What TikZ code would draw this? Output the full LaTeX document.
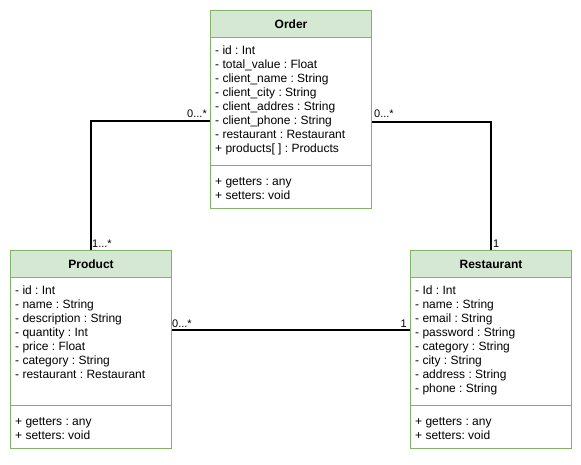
\documentclass[tikz,border=0pt]{standalone}
\usepackage{fontspec}
\setmainfont{Liberation Sans}
\usetikzlibrary{calc}
\definecolor{hdrfill}{HTML}{D5E8D4}
\definecolor{hdrline}{HTML}{82B366}
\frenchspacing
\begin{document}
\begin{tikzpicture}[x=1pt,y=-1pt,
  classbox/.style={draw=hdrline, line width=1pt, fill=white, minimum width=161pt,
    minimum height=198pt, inner sep=0pt, anchor=north west},
  classhead/.style={draw=hdrline, line width=1pt, fill=hdrfill, minimum width=161pt,
    minimum height=27pt, inner sep=0pt, anchor=north west},
  divider/.style={draw=hdrline, line width=1pt},
  title/.style={font=\bfseries\fontsize{12}{14}\selectfont, inner sep=0pt},
  member/.style={font=\frenchspacing\fontsize{12}{14}\selectfont, anchor=base west, inner sep=0pt},
  mult/.style={font=\fontsize{11}{13}\selectfont, inner sep=0pt},
  assoc/.style={draw=black, line width=2pt},
]
\useasboundingbox[fill=white] (0,0) rectangle (581,464);

% class boxes
\node[classbox] (orderbox) at (210,10) {};
\node[classhead] (orderhead) at (210,10) {};
\node[title] (ordertitle) at (orderhead.center) {Order};
\draw[divider] ($(orderbox.south west)+(0,-44)$) -- ($(orderbox.south east)+(0,-44)$);

\node[classbox] (prodbox) at (10,250) {};
\node[classhead] (prodhead) at (10,250) {};
\node[title] (prodtitle) at (prodhead.center) {Product};
\draw[divider] ($(prodbox.south west)+(0,-44)$) -- ($(prodbox.south east)+(0,-44)$);

\node[classbox] (restbox) at (410,250) {};
\node[classhead] (resthead) at (410,250) {};
\node[title] (resttitle) at (resthead.center) {Restaurant};
\draw[divider] ($(restbox.south west)+(0,-44)$) -- ($(restbox.south east)+(0,-44)$);

% attributes
\foreach \t [count=\i] in {- id : Int, - total\_value : Float, - client\_name : String,
  - client\_city : String, - client\_addres : String, - client\_phone : String,
  - restaurant : Restaurant, + products[ ] : Products}
  \node[member] (ordattr\i) at (215,{40+14*\i}) {\t};
\foreach \t [count=\i] in {- id : Int, - name : String, - description : String,
  - quantity : Int, - price : Float, - category : String, - restaurant : Restaurant}
  \node[member] (prodattr\i) at (15,{280+14*\i}) {\t};
\foreach \t [count=\i] in {- Id : Int, - name : String, - email : String,
  - password : String, - category : String, - city : String, - address : String,
  - phone : String}
  \node[member] (restattr\i) at (415,{280+14*\i}) {\t};

% methods
\foreach \t [count=\i] in {+ getters : any, + setters: void}
  \node[member] (ordmeth\i) at (215,{171+14*\i}) {\t};
\foreach \t [count=\i] in {+ getters : any, + setters: void}
  \node[member] (prodmeth\i) at (15,{411+14*\i}) {\t};
\foreach \t [count=\i] in {+ getters : any, + setters: void}
  \node[member] (restmeth\i) at (415,{411+14*\i}) {\t};

% associations
\draw[assoc] ([yshift=-11pt]orderbox.west) -| (prodbox.north);
\draw[assoc] ([yshift=-12pt]orderbox.east) -| (restbox.north);
\draw[assoc] ([yshift=20pt]prodbox.east) -- ([yshift=20pt]restbox.west);

% multiplicities
\node[mult, anchor=base east] (m1) at (207,117) {0...*};
\node[mult, anchor=base west] (m2) at (92,247) {1...*};
\node[mult, anchor=base west] (m3) at (374,117) {0...*};
\node[mult, anchor=base west] (m4) at (493,247) {1};
\node[mult, anchor=base west] (m5) at (172,327) {0...*};
\node[mult, anchor=base east] (m6) at (407,327) {1};
\end{tikzpicture}
\end{document}
